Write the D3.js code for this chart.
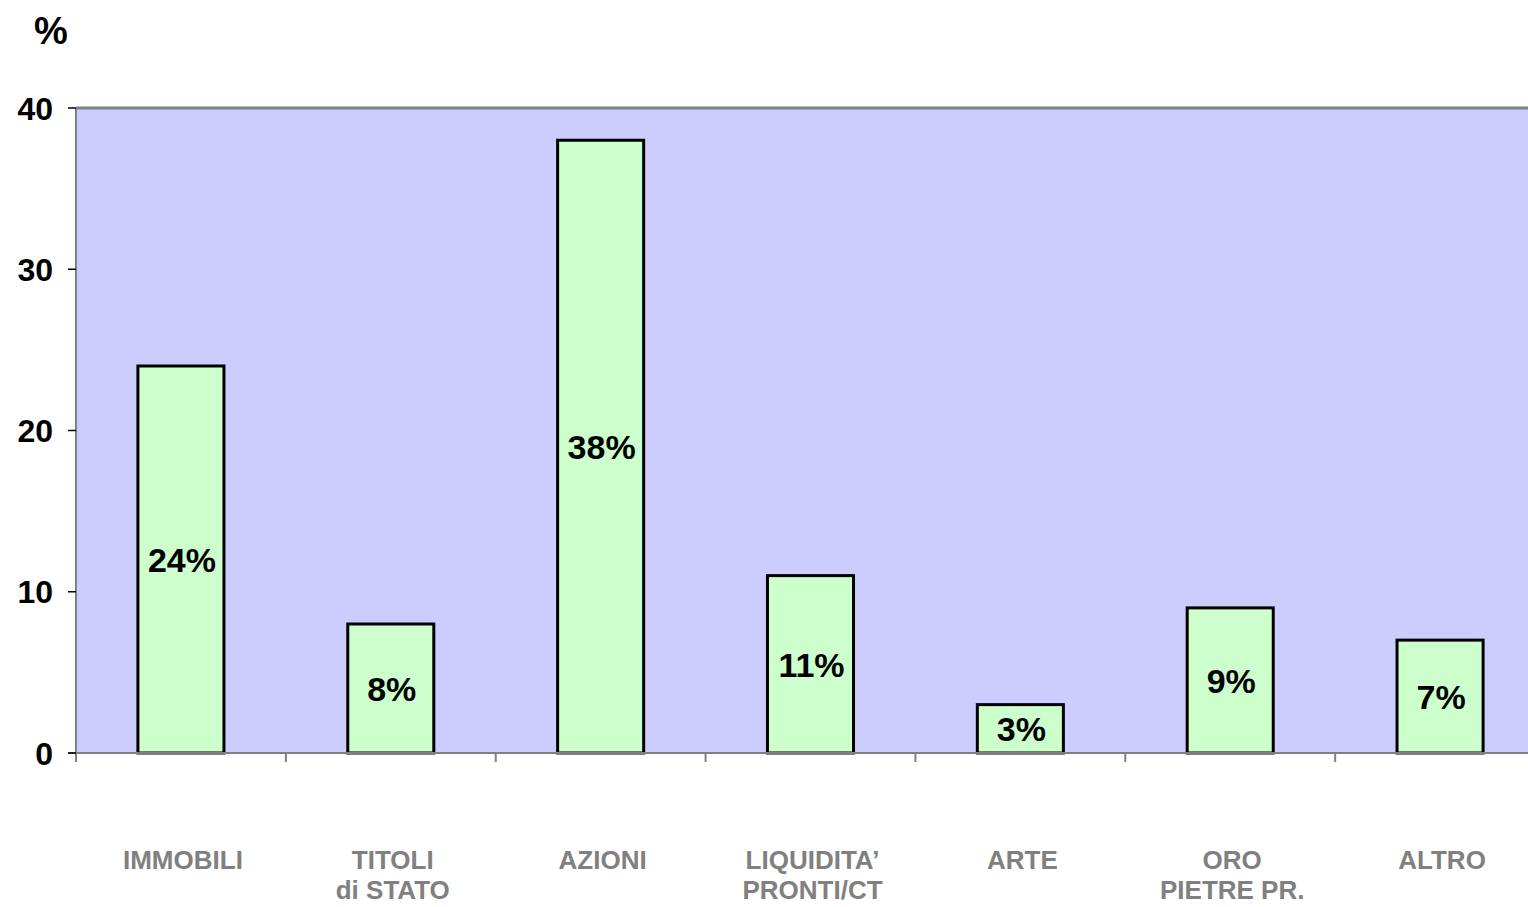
<!DOCTYPE html>
<html><head><meta charset="utf-8">
<script src="https://cdn.jsdelivr.net/npm/d3@7"></script>
<style>body{margin:0;background:#fff;overflow:hidden}svg{display:block}</style>
</head><body>
<script>
const categories = [["IMMOBILI"],["TITOLI","di STATO"],["AZIONI"],["LIQUIDITA’","PRONTI/CT"],["ARTE"],["ORO","PIETRE PR."],["ALTRO"]];
const values = [24, 8, 38, 11, 3, 9, 7];
const valueLabels = ["24%","8%","38%","11%","3%","9%","7%"];
const yTicks = [0, 10, 20, 30, 40];
const yUnit = "%";

const W = 1528, H = 907;
const m = {left: 76, top: 108, bottom: 753, right: 1545};
const svg = d3.select("body").append("svg").attr("width", W).attr("height", H);
const font = "'Liberation Sans', Arial, sans-serif";

const x = d3.scaleBand().domain(d3.range(categories.length)).range([m.left, m.right]).paddingInner(0).paddingOuter(0);
const y = d3.scaleLinear().domain([0, 40]).range([m.bottom, m.top]);

svg.append("rect").attr("x", m.left).attr("y", m.top).attr("width", m.right - m.left).attr("height", m.bottom - m.top).attr("fill", "#CCCCFF");
svg.append("line").attr("x1", m.left).attr("x2", m.right).attr("y1", m.top).attr("y2", m.top).attr("stroke", "#808080").attr("stroke-width", 3);
svg.append("line").attr("x1", m.left).attr("x2", m.left).attr("y1", m.top).attr("y2", m.bottom).attr("stroke", "#808080").attr("stroke-width", 2);

const bw = x.step() * 0.41;
svg.selectAll("rect.bar").data(values).enter().append("rect").attr("class", "bar")
  .attr("x", (d, i) => x(i) + x.step() / 2 - bw / 2)
  .attr("y", d => y(d)).attr("width", bw).attr("height", d => y(0) - y(d))
  .attr("fill", "#CCFFCC").attr("stroke", "#000").attr("stroke-width", 3);

svg.selectAll("text.val").data(values).enter().append("text").attr("class", "val")
  .attr("x", (d, i) => x(i) + x.step() / 2 + 1)
  .attr("y", d => (y(d) + y(0)) / 2).attr("dy", "0.36em")
  .attr("text-anchor", "middle").attr("font-family", font).attr("font-weight", "bold").attr("font-size", 34)
  .text((d, i) => valueLabels[i]);

svg.append("line").attr("x1", m.left - 8).attr("x2", m.right).attr("y1", m.bottom).attr("y2", m.bottom).attr("stroke", "#808080").attr("stroke-width", 2);
svg.selectAll("line.xt").data(d3.range(categories.length)).enter().append("line").attr("class", "xt")
  .attr("x1", i => x(i)).attr("x2", i => x(i)).attr("y1", m.bottom).attr("y2", m.bottom + 9)
  .attr("stroke", "#808080").attr("stroke-width", 2);

svg.selectAll("line.yt").data(yTicks).enter().append("line").attr("class", "yt")
  .attr("x1", m.left - 8).attr("x2", m.left).attr("y1", d => y(d)).attr("y2", d => y(d))
  .attr("stroke", "#000").attr("stroke-width", 1.5);
svg.selectAll("text.yl").data(yTicks).enter().append("text").attr("class", "yl")
  .attr("x", 53).attr("y", d => y(d)).attr("dy", "0.36em").attr("text-anchor", "end")
  .attr("font-family", font).attr("font-weight", "bold").attr("font-size", 32).text(d => d);

svg.append("text").attr("x", 51).attr("y", 30).attr("dy", "0.36em").attr("text-anchor", "middle")
  .attr("font-family", font).attr("font-weight", "bold").attr("font-size", 38).text(yUnit);

const cl = svg.selectAll("text.cat").data(categories).enter().append("text").attr("class", "cat")
  .attr("text-anchor", "middle").attr("font-family", font).attr("font-weight", "bold").attr("font-size", 26)
  .attr("fill", "#808080");
cl.each(function(d, i) {
  const t = d3.select(this);
  d.forEach((line, j) => {
    t.append("tspan").attr("x", x(i) + x.step() / 2 + 2).attr("y", 869 + j * 30).text(line);
  });
});
</script>
</body></html>
